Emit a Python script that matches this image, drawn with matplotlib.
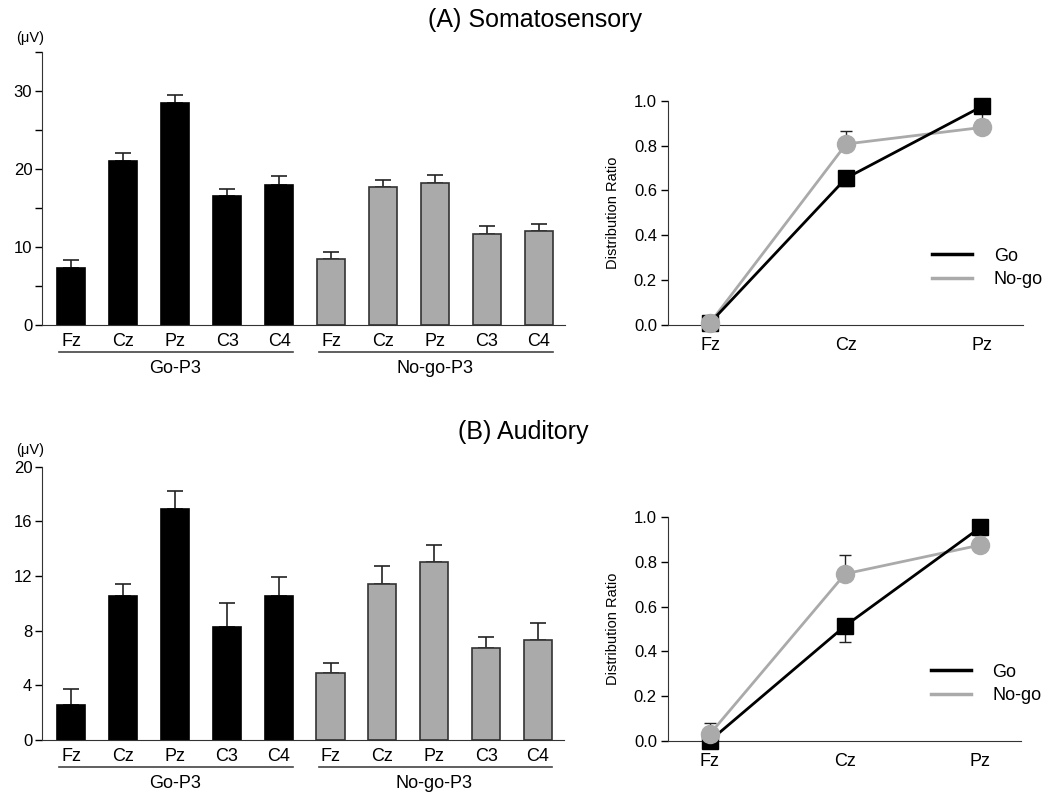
import matplotlib
matplotlib.use("Agg")
import matplotlib.pyplot as plt
import numpy as np

plt.rcParams['font.family'] = ['Liberation Sans', 'DejaVu Sans']

#%% data
sites = ['Fz', 'Cz', 'Pz', 'C3', 'C4']
groups = ['Go-P3', 'No-go-P3']

# (A) somatosensory amplitudes, uV (mean, SE)
som_go = [7.3, 21.0, 28.5, 16.5, 18.0]
som_go_err = [1.0, 1.1, 1.0, 1.0, 1.1]
som_nogo = [8.5, 17.7, 18.2, 11.7, 12.0]
som_nogo_err = [0.9, 0.9, 1.0, 1.0, 0.9]

# (B) auditory amplitudes, uV
aud_go = [2.55, 10.55, 16.9, 8.25, 10.55]
aud_go_err = [1.2, 0.9, 1.3, 1.8, 1.35]
aud_nogo = [4.9, 11.4, 13.0, 6.7, 7.3]
aud_nogo_err = [0.7, 1.3, 1.3, 0.85, 1.25]

# distribution ratio (Fz, Cz, Pz)
ratio_sites = ['Fz', 'Cz', 'Pz']
som_ratio_go = [0.01, 0.655, 0.975]
som_ratio_go_err = [0.0, 0.035, 0.06]
som_ratio_nogo = [0.01, 0.807, 0.881]
som_ratio_nogo_err = [0.0, 0.058, 0.02]
aud_ratio_go = [0.0, 0.514, 0.955]
aud_ratio_go_err = [0.0, 0.074, 0.035]
aud_ratio_nogo = [0.03, 0.747, 0.876]
aud_ratio_nogo_err = [0.05, 0.083, 0.02]

W, H = 1047, 795
fig = plt.figure(figsize=(W / 100, H / 100), dpi=100)


def px_axes(left, top, right, bottom):
    return fig.add_axes([left / W, 1 - bottom / H, (right - left) / W, (bottom - top) / H])


def bar_panel(ax, go, go_err, nogo, nogo_err, ymax, yticks, minor=None):
    x = np.arange(len(sites) * 2)
    vals = list(go) + list(nogo)
    errs = list(go_err) + list(nogo_err)
    cols = ['black'] * len(go) + ['#aaaaaa'] * len(nogo)
    edges = ['black'] * len(go) + ['#333333'] * len(nogo)
    ax.bar(x, vals, width=0.54, color=cols, edgecolor=edges, linewidth=1.2, zorder=2)
    ax.errorbar(x, vals, yerr=[np.zeros(len(errs)), errs], fmt='none', ecolor='#222222',
                elinewidth=1.2, capsize=6, capthick=1.2, zorder=1)
    ax.set_xlim(-0.56, 9.5)
    ax.set_ylim(0, ymax)
    ax.set_yticks(yticks)
    if minor is not None:
        ax.set_yticks(minor, minor=True)
    ax.set_xticks(x)
    ax.set_xticklabels(sites * 2, fontsize=13)
    ax.tick_params(axis='x', length=0, pad=6)
    ax.tick_params(axis='y', direction='out', length=5, width=1, labelsize=12, pad=2)
    ax.tick_params(axis='y', which='minor', direction='out', length=5, width=1)
    for s in ['top', 'right']:
        ax.spines[s].set_visible(False)
    ax.spines['left'].set_color('#333333')
    ax.spines['bottom'].set_color('#333333')
    tr = ax.get_xaxis_transform()
    for g, start in zip(groups, [0, 5]):
        ax.plot([start - 0.23, start + 4.27], [-0.098, -0.098], color='#444444', lw=1.2,
                transform=tr, clip_on=False)
        ax.text(start + 2, -0.158, g, transform=tr, ha='center', va='center', fontsize=13)


def ratio_panel(ax, go, go_err, nogo, nogo_err):
    x = np.arange(len(ratio_sites))
    ax.errorbar(x, nogo, yerr=[np.zeros(3), nogo_err], fmt='none', ecolor='#222222',
                elinewidth=1, capsize=4, capthick=1, zorder=1, clip_on=False)
    ax.errorbar(x, go, yerr=[go_err, np.zeros(3)], fmt='none', ecolor='#222222',
                elinewidth=1, capsize=4, capthick=1, zorder=1, clip_on=False)
    ax.plot(x, nogo, color='#aaaaaa', lw=2, zorder=2, clip_on=False)
    ax.plot(x, go, color='black', lw=2, marker='s', markersize=12, zorder=3,
            clip_on=False, label='Go')
    ax.plot(x, nogo, color='#aaaaaa', lw=0, marker='o', markersize=13, zorder=4,
            clip_on=False)
    ax.plot([], [], color='#aaaaaa', lw=2.5, label='No-go')
    ax.set_xlim(-0.31, 2.3)
    ax.set_ylim(0, 1.0)
    ax.set_yticks(np.arange(0, 1.01, 0.2))
    ax.set_yticklabels(['%.1f' % v for v in np.arange(0, 1.01, 0.2)])
    ax.set_xticks(x)
    ax.set_xticklabels(ratio_sites, fontsize=13)
    ax.tick_params(axis='x', length=0, pad=9)
    ax.tick_params(axis='y', direction='out', length=5, width=1, labelsize=12, pad=3)
    ax.set_ylabel('Distribution Ratio', fontsize=10.5, labelpad=10)
    for s in ['top', 'right']:
        ax.spines[s].set_visible(False)
    ax.spines['left'].set_color('#333333')
    ax.spines['bottom'].set_color('#333333')
    leg = ax.legend(loc='upper left', bbox_to_anchor=(0.745, 0.345), frameon=False,
                    fontsize=13, handlelength=2.2, handletextpad=1.2, labelspacing=0.35,
                    borderpad=0, borderaxespad=0)
    for line in leg.get_lines():
        line.set_linewidth(2.5)
        line.set_marker('')


#%% (A)
ax1 = px_axes(42, 52, 565, 325)
bar_panel(ax1, som_go, som_go_err, som_nogo, som_nogo_err, 35, [0, 10, 20, 30], minor=[5, 15, 25, 35])
ax2 = px_axes(668, 100.7, 1023, 325)
ratio_panel(ax2, som_ratio_go, som_ratio_go_err, som_ratio_nogo, som_ratio_nogo_err)

#%% (B)
ax3 = px_axes(42, 466.7, 564, 740)
bar_panel(ax3, aud_go, aud_go_err, aud_nogo, aud_nogo_err, 20, [0, 4, 8, 12, 16, 20])
ax4 = px_axes(668, 517.3, 1021, 740.7)
ratio_panel(ax4, aud_ratio_go, aud_ratio_go_err, aud_ratio_nogo, aud_ratio_nogo_err)

fig.text(535 / W, 1 - 20 / H, '(A) Somatosensory', ha='center', va='center', fontsize=18)
fig.text(523 / W, 1 - 432 / H, '(B) Auditory', ha='center', va='center', fontsize=18)
fig.text(30 / W, 1 - 38 / H, '(μV)', ha='center', va='center', fontsize=10.5)
fig.text(30 / W, 1 - 450 / H, '(μV)', ha='center', va='center', fontsize=10.5)

fig.savefig('out.png', dpi=100)
